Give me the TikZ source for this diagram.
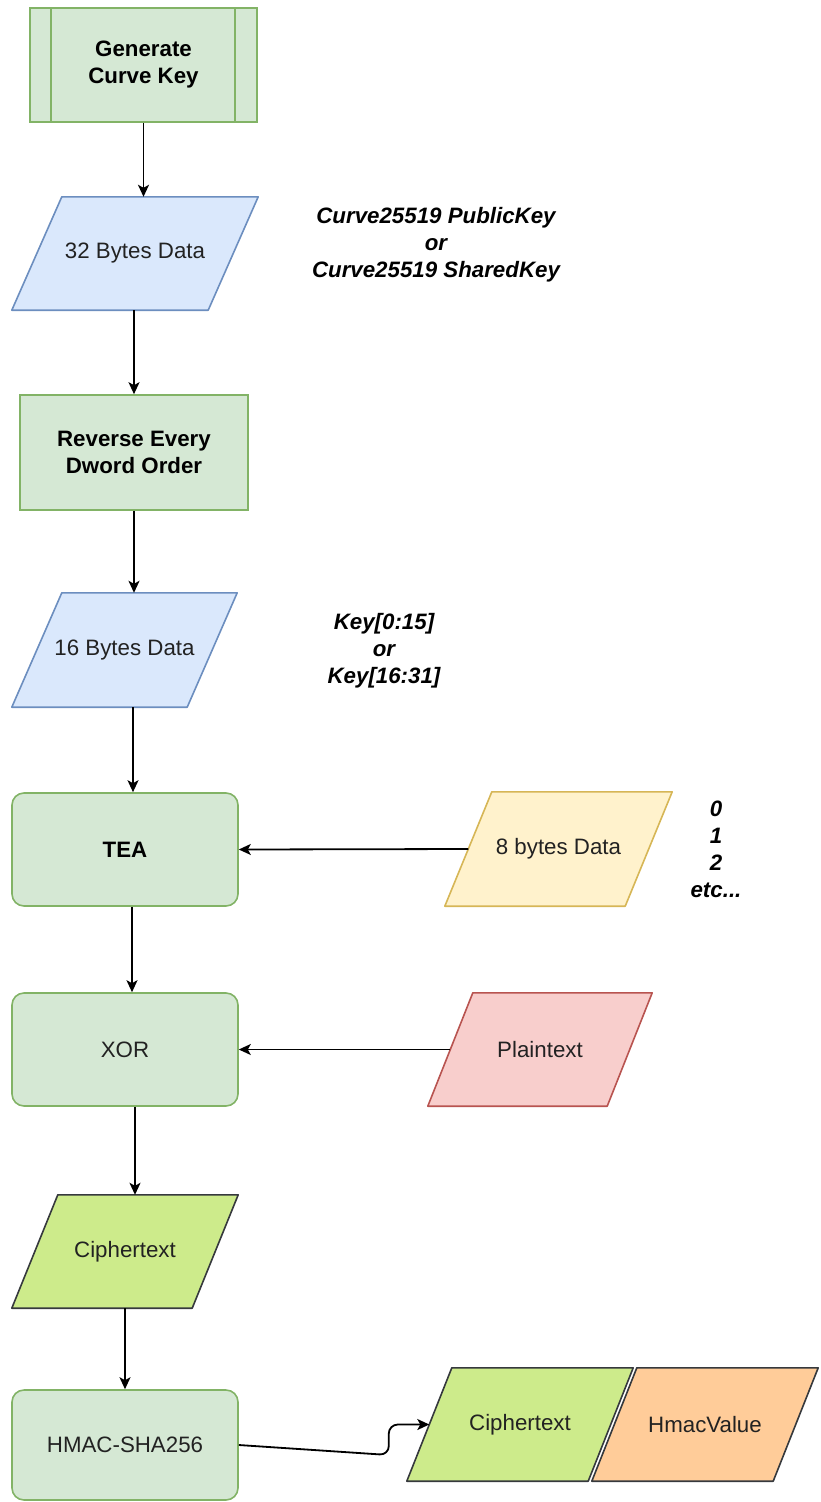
\documentclass[tikz,border=0pt]{standalone}
\usepackage{fontspec}
\setmainfont{Liberation Sans}
\usetikzlibrary{arrows.meta,backgrounds}
\definecolor{gfill}{HTML}{D5E8D4}
\definecolor{gline}{HTML}{82B366}
\definecolor{bfill}{HTML}{DAE8FC}
\definecolor{bline}{HTML}{6C8EBF}
\definecolor{yfill}{HTML}{FFF2CC}
\definecolor{yline}{HTML}{D6B656}
\definecolor{rfill}{HTML}{F8CECC}
\definecolor{rline}{HTML}{B85450}
\definecolor{lfill}{HTML}{CDEB8B}
\definecolor{dline}{HTML}{36393D}
\definecolor{ofill}{HTML}{FFCC99}
\definecolor{txt}{HTML}{222222}
\newcommand\dsize{\fontsize{22.3}{27}\selectfont}
\newcommand\drawpara[3]{\begin{pgfonlayer}{background}\draw[#3] ([xshift=#2]#1.north west) -- ([xshift=#2]#1.north east) -- ([xshift=-#2]#1.south east) -- ([xshift=-#2]#1.south west) -- cycle;\end{pgfonlayer}}
\begin{document}
\begin{tikzpicture}[x=1pt,y=-1pt,
  every node/.style={font=\dsize, text=txt, align=center},
  proc/.style={draw=gline, fill=gfill, line width=1.6pt, inner sep=0pt},
  rproc/.style={proc, rounded corners=12pt},
  pnode/.style={inner sep=0pt, minimum height=113pt},
  bfont/.style={font=\dsize\bfseries, text=black},
  note/.style={font=\dsize\bfseries\itshape, text=black},
  shp/.style={line width=1.6pt, line join=round},
  arrow/.style={-{Stealth[length=12pt,width=11pt,inset=3pt]}, line width=1.8pt, black}]
\path[use as bounding box] (0,0) rectangle (820,1502);

% Generate Curve Key
\node[proc, bfont, minimum width=227pt, minimum height=114pt] (gen) at (143.5,65) {Generate\\Curve Key};
\draw[gline, line width=1.6pt] ([xshift=22pt]gen.north west) -- ([xshift=22pt]gen.south west);
\draw[gline, line width=1.6pt] ([xshift=-23pt]gen.north east) -- ([xshift=-23pt]gen.south east);

% 32 Bytes Data
\node[pnode, minimum width=196pt] (d32) at (135,253.5) {32 Bytes Data};
\drawpara{d32}{25pt}{shp, draw=bline, fill=bfill}
\node[note] (n1) at (436,245) {Curve25519 PublicKey\\or\\Curve25519 SharedKey};

% Reverse
\node[proc, bfont, minimum width=228pt, minimum height=115pt] (rev) at (134,452.5) {Reverse Every\\Dword Order};

% 16 Bytes Data
\node[pnode, minimum width=175pt, minimum height=114pt] (d16) at (124.5,650) {16 Bytes Data};
\drawpara{d16}{25pt}{shp, draw=bline, fill=bfill}
\node[note] (n2) at (384,651) {Key[0:15]\\or\\Key[16:31]};

% TEA
\node[rproc, bfont, minimum width=226pt, minimum height=113pt] (tea) at (125,849.5) {TEA};
\node[pnode, minimum width=180pt, minimum height=114pt] (d8) at (558.5,849) {8 bytes Data};
\drawpara{d8}{23.5pt}{shp, draw=yline, fill=yfill}
\node[note] (n3) at (716,849) {0\\1\\2\\etc...};

% XOR
\node[rproc, minimum width=226pt, minimum height=113pt] (xor) at (125,1049.5) {XOR};
\node[pnode, minimum width=179pt] (plain) at (540,1049.5) {Plaintext};
\drawpara{plain}{22.5pt}{shp, draw=rline, fill=rfill}

% Ciphertext
\node[pnode, minimum width=180pt] (ciph) at (125,1251.5) {Ciphertext};
\drawpara{ciph}{23pt}{shp, draw=dline, fill=lfill}

% HMAC
\node[rproc, minimum width=226pt, minimum height=110pt] (hmac) at (125,1445) {HMAC-SHA256};
\node[pnode, minimum width=181pt] (c2) at (520,1424.5) {Ciphertext};
\drawpara{c2}{22.5pt}{shp, draw=dline, fill=lfill}
\node[pnode, minimum width=181pt] (hv) at (705,1424.5) {HmacValue};
\drawpara{hv}{22.5pt}{shp, draw=dline, fill=ofill}

% connectors
\draw[arrow] (gen.south) -- (gen.south |- d32.north);
\draw[arrow] (rev.north |- d32.south) -- (rev.north);
\draw[arrow] (rev.south) -- (rev.south |- d16.north);
\draw[arrow] ([xshift=8pt]tea.north |- d16.south) -- ([xshift=8pt]tea.north);
\draw[arrow] (d8.west) -- (tea.east);
\draw[arrow] ([xshift=7pt]tea.south) -- ([xshift=7pt]xor.north);
\draw[arrow] (plain.west) -- (xor.east);
\draw[arrow] ([xshift=10pt]xor.south) -- ([xshift=10pt]xor.south |- ciph.north);
\draw[arrow] (ciph.south) -- (hmac.north);
\draw[arrow, rounded corners=9pt] (hmac.east) -- ++(150,10) |- (c2.west);
\end{tikzpicture}
\end{document}
